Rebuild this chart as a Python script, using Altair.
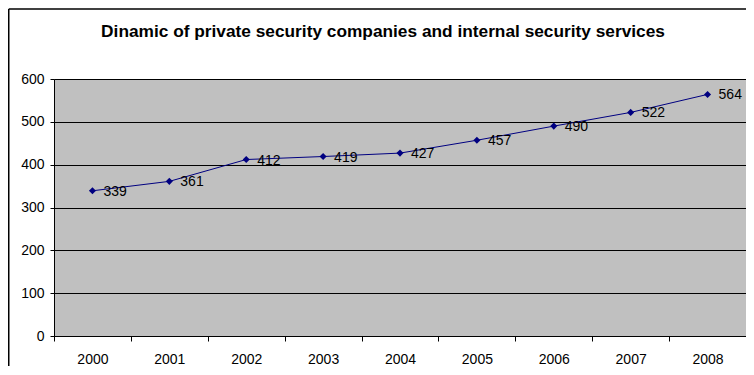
import altair as alt
import pandas as pd

years = ["2000", "2001", "2002", "2003", "2004", "2005", "2006", "2007", "2008"]
values = [339, 361, 412, 419, 427, 457, 490, 522, 564]
y_ticks = [0, 100, 200, 300, 400, 500, 600]
title_text = "Dinamic of private security companies and internal security services"

df = pd.DataFrame({"year": years, "value": values})

W, H = 692, 257
FONT = "Liberation Sans"

x_enc = alt.X(
    "year:O",
    bandPosition=0.5,
    scale=alt.Scale(type="band", paddingInner=0, paddingOuter=0),
    axis=alt.Axis(
        title=None, labelAngle=0, tickBand="extent", tickSize=5, tickColor="#000",
        domainColor="#000", labelFontSize=14, labelFont=FONT, labelColor="#000",
        labelPadding=11, grid=False,
    ),
)
y_enc = alt.Y(
    "value:Q",
    scale=alt.Scale(domain=[0, 600], nice=False, zero=True),
    axis=alt.Axis(
        title=None, values=y_ticks, tickSize=4, tickColor="#000", domainColor="#000",
        labelFontSize=14, labelFont=FONT, labelColor="#000", labelPadding=6,
        grid=True, gridColor="#000", gridWidth=1, gridOpacity=1,
    ),
)

base = alt.Chart(df)
line = base.mark_line(color="#000080", strokeWidth=1).encode(x=x_enc, y=y_enc)
pts = base.mark_point(shape="diamond", filled=True, color="#000080", size=50, opacity=1).encode(x=x_enc, y=y_enc)
labels = base.mark_text(align="left", baseline="middle", dx=11, dy=1, fontSize=14, font=FONT, color="#000").encode(
    x=x_enc, y=y_enc, text="value:Q"
)

border_top = alt.Chart(pd.DataFrame({"a": [0]})).mark_rule(color="#000", strokeWidth=1.5).encode(
    x=alt.value(-45.25), x2=alt.value(W + 20), y=alt.value(-70)
)
border_left = alt.Chart(pd.DataFrame({"a": [0]})).mark_rule(color="#000", strokeWidth=1.5).encode(
    x=alt.value(-45.25), y=alt.value(-70), y2=alt.value(H + 60)
)

chart = alt.layer(line, pts, labels, border_top, border_left).properties(
    width=W,
    height=H,
    title=alt.TitleParams(
        title_text, fontSize=17.3, font=FONT, fontWeight="bold", color="#000",
        anchor="middle", frame="group", baseline="alphabetic", offset=-46, dx=-17,
    ),
    autosize=alt.AutoSizeParams(type="none"),
    padding={"left": 46, "top": 71, "right": 0, "bottom": 30},
    background="#ffffff",
).configure_view(
    fill="#C0C0C0", stroke="#808080", strokeWidth=1
)

chart.save("out.html", embed_options={"renderer": "svg", "actions": False})
